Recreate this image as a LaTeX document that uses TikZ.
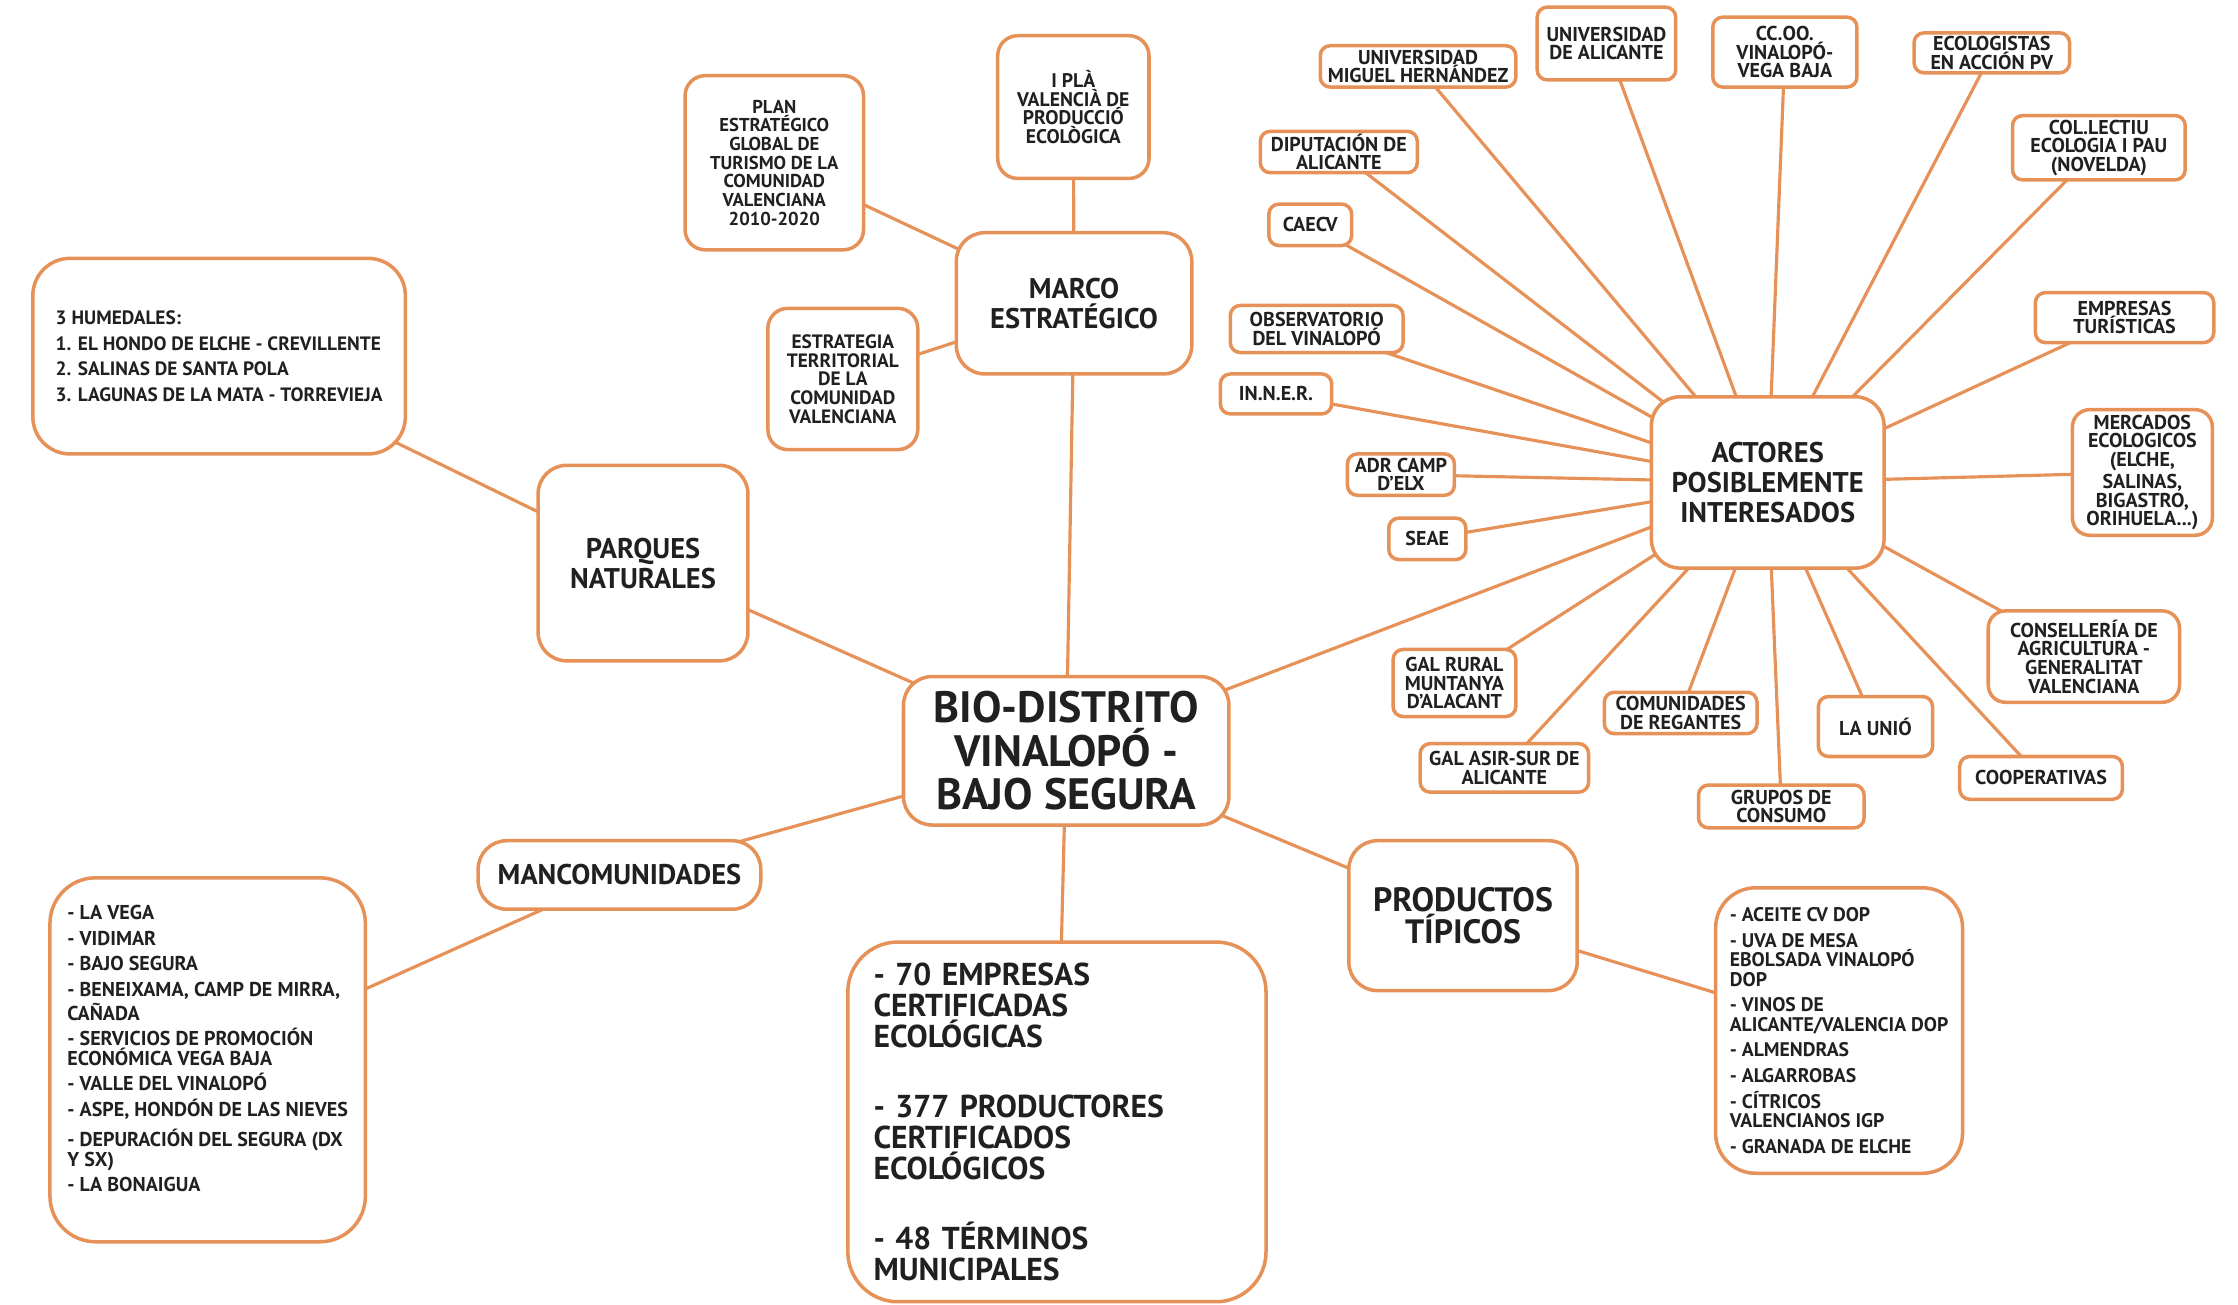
\documentclass[tikz,border=0pt]{standalone}
\usepackage{fontspec}
\setmainfont{PT Sans}
\usetikzlibrary{backgrounds}

\definecolor{mapline}{RGB}{230,145,88}
\definecolor{maptext}{RGB}{32,32,32}
\newcommand{\pxu}{0.1427mm}
\newcommand{\fs}[2]{\fontsize{#1pt}{#2pt}\selectfont\bfseries}

\begin{document}
\begin{tikzpicture}[x=0.1427mm,y=-0.1427mm,
  every node/.style={inner sep=0pt, text=maptext},
  box/.style 2 args={draw=mapline, line width=1pt, fill=white, align=center,
    minimum width=#1*\pxu, minimum height=#2*\pxu},
  hub/.style={rounded corners=20*\pxu, font=\fs{8.1}{8.5}},
  leaf/.style={rounded corners=7*\pxu, font=\fs{5.7}{5.3}},
  lst/.style={rounded corners=32*\pxu, align=left, font=\fs{5.6}{5.5}},
  link/.style={draw=mapline, line width=0.9pt}]
\useasboundingbox (0,0) rectangle (1568,913.6);

% centro y ramas principales
\node[box={228}{104}, hub, font=\fs{12.5}{12.3}] (bio) at (747,526) {BIO-DISTRITO\\VINALOPÓ -\\BAJO SEGURA};
\node[box={165}{99}, hub] (marco) at (752.5,212.5) {MARCO\\ESTRATÉGICO};
\node[box={147}{137}, hub] (parques) at (450.5,394.5) {PARQUES\\NATURALES};
\node[box={198}{48}, hub] (manc) at (434,613) {MANCOMUNIDADES};
\node[box={160}{105}, hub, font=\fs{9.6}{8.9}] (prod) at (1025,641.5) {PRODUCTOS\\TÍPICOS};
\node[box={163}{120}, hub] (actores) at (1238.5,338) {ACTORES\\POSIBLEMENTE\\INTERESADOS};
\node[box={293}{252}, lst, rounded corners=35*\pxu, font=\fs{9}{8.85}, text width=257*\pxu] (cifras) at (740.5,786)
  {- 70 EMPRESAS\\CERTIFICADAS\\ECOLÓGICAS\\[11pt]- 377 PRODUCTORES\\CERTIFICADOS\\ECOLÓGICOS\\[11pt]- 48 TÉRMINOS\\MUNICIPALES};

% marco estrategico
\node[box={125}{122}, leaf, rounded corners=14*\pxu, font=\fs{5.3}{5.3}] (plan) at (542.5,114) {PLAN\\ESTRATÉGICO\\GLOBAL DE\\TURISMO DE LA\\COMUNIDAD\\VALENCIANA\\2010-2020};
\node[box={106}{100}, leaf, rounded corners=14*\pxu, font=\fs{5.6}{5.3}] (pla) at (752,75) {I PLÀ\\VALENCIÀ DE\\PRODUCCIÓ\\ECOLÒGICA};
\node[box={105}{99}, leaf, rounded corners=14*\pxu, font=\fs{5.5}{5.3}] (etcv) at (590.5,265.5) {ESTRATEGIA\\TERRITORIAL\\DE LA\\COMUNIDAD\\VALENCIANA};

% listas
\node[box={261}{137}, lst, rounded corners=26*\pxu, font=\fs{5.5}{7.3}] (humedales) at (153.5,249.5)
  {3 HUMEDALES:\\1. EL HONDO DE ELCHE - CREVILLENTE\\2. SALINAS DE SANTA POLA\\3. LAGUNAS DE LA MATA - TORREVIEJA};
\node[box={221}{255}, lst, font=\fs{5.7}{5.5}] (manclist) at (145.5,742.5)
  {- LA VEGA\\[1.8pt]- VIDIMAR\\[1.8pt]- BAJO SEGURA\\[1.8pt]- BENEIXAMA, CAMP DE MIRRA,\\CAÑADA\\[1.8pt]- SERVICIOS DE PROMOCIÓN\\ECONÓMICA VEGA BAJA\\[1.8pt]- VALLE DEL VINALOPÓ\\[1.8pt]- ASPE, HONDÓN DE LAS NIEVES\\[1.8pt]- DEPURACIÓN DEL SEGURA (DX\\Y SX)\\[1.8pt]- LA BONAIGUA\\[1pt]\mbox{}};
\node[box={173}{200}, lst, rounded corners=28*\pxu] (prodlist) at (1288.5,722)
  {- ACEITE CV DOP\\[1.8pt]- UVA DE MESA\\EBOLSADA VINALOPÓ\\DOP\\[1.8pt]- VINOS DE\\ALICANTE/VALENCIA DOP\\[1.8pt]- ALMENDRAS\\[1.8pt]- ALGARROBAS\\[1.8pt]- CÍTRICOS\\VALENCIANOS IGP\\[1.8pt]- GRANADA DE ELCHE};

% actores
\node[box={137}{29}, leaf] (umh) at (993.5,46.5) {UNIVERSIDAD\\MIGUEL HERNÁNDEZ};
\node[box={97}{51}, leaf] (ua) at (1125.5,30.5) {UNIVERSIDAD\\DE ALICANTE};
\node[box={101}{49}, leaf] (ccoo) at (1250.5,36.5) {CC.OO.\\VINALOPÓ-\\VEGA BAJA};
\node[box={109}{28}, leaf] (ecol) at (1395.5,37) {ECOLOGISTAS\\EN ACCIÓN PV};
\node[box={121}{45}, leaf] (pau) at (1470.5,103.5) {COL.LECTIU\\ECOLOGIA I PAU\\(NOVELDA)};
\node[box={110}{29}, leaf] (dipu) at (938,106.5) {DIPUTACIÓN DE\\ALICANTE};
\node[box={58}{29}, leaf] (caecv) at (918,157.5) {CAECV};
\node[box={121}{33}, leaf] (obs) at (922.5,230.5) {OBSERVATORIO\\DEL VINALOPÓ};
\node[box={78}{28}, leaf] (inner) at (894,276) {IN.N.E.R.};
\node[box={125}{35}, leaf] (emp) at (1488.5,222.5) {EMPRESAS\\TURÍSTICAS};
\node[box={98}{88}, leaf, rounded corners=12*\pxu] (merc) at (1501,331) {MERCADOS\\ECOLOGICOS\\(ELCHE,\\SALINAS,\\BIGASTRO,\\ORIHUELA...)};
\node[box={75}{29}, leaf] (adr) at (981.5,332.5) {ADR CAMP\\D'ELX};
\node[box={54}{29}, leaf] (seae) at (1000,377.5) {SEAE};
\node[box={86}{47}, leaf] (galr) at (1019,478.5) {GAL RURAL\\MUNTANYA\\D'ALACANT};
\node[box={118}{34}, leaf] (gala) at (1054,538) {GAL ASIR-SUR DE\\ALICANTE};
\node[box={107}{29}, leaf] (regantes) at (1177.5,499.5) {COMUNIDADES\\DE REGANTES};
\node[box={116}{30}, leaf] (grupos) at (1248,565) {GRUPOS DE\\CONSUMO};
\node[box={80}{42}, leaf] (unio) at (1314,509) {LA UNIÓ};
\node[box={114}{30}, leaf] (coop) at (1430,545) {COOPERATIVAS};
\node[box={134}{64}, leaf, rounded corners=12*\pxu] (conse) at (1460,460) {CONSELLERÍA DE\\AGRICULTURA -\\GENERALITAT\\VALENCIANA};

\begin{scope}[on background layer]
\path [link] (bio.center) -- (marco.center);
\path [link] (bio.center) -- (parques.center);
\path [link] (bio.center) -- (manc.center);
\path [link] (bio.center) -- (prod.center);
\path [link] (bio.center) -- (actores.center);
\path [link] (bio.center) -- (cifras.center);
\path [link] (marco.center) -- (plan.center);
\path [link] (marco.center) -- (pla.center);
\path [link] (marco.center) -- (etcv.center);
\path [link] (parques.center) -- (humedales.center);
\path [link] (manc.center) -- (manclist.center);
\path [link] (prod.center) -- (prodlist.center);
\path [link] (actores.center) -- (umh.center);
\path [link] (actores.center) -- (ua.center);
\path [link] (actores.center) -- (ccoo.center);
\path [link] (actores.center) -- (ecol.center);
\path [link] (actores.center) -- (pau.center);
\path [link] (actores.center) -- (dipu.center);
\path [link] (actores.center) -- (caecv.center);
\path [link] (actores.center) -- (obs.center);
\path [link] (actores.center) -- (inner.center);
\path [link] (actores.center) -- (emp.center);
\path [link] (actores.center) -- (merc.center);
\path [link] (actores.center) -- (adr.center);
\path [link] (actores.center) -- (seae.center);
\path [link] (actores.center) -- (galr.center);
\path [link] (actores.center) -- (gala.center);
\path [link] (actores.center) -- (regantes.center);
\path [link] (actores.center) -- (grupos.center);
\path [link] (actores.center) -- (unio.center);
\path [link] (actores.center) -- (coop.center);
\path [link] (actores.center) -- (conse.center);
\end{scope}
\end{tikzpicture}
\end{document}
